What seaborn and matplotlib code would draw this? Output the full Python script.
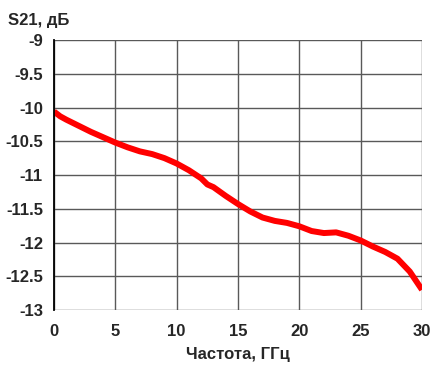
import numpy as np
import matplotlib
matplotlib.use("Agg")
import matplotlib.pyplot as plt
import seaborn as sns
import pandas as pd

# Frequency (GHz) and S21 (dB)
freq = [0, 0.5, 1, 2, 3, 4, 5, 6, 7, 8, 9, 10, 11, 12, 12.5, 13, 14, 15,
        16, 17, 18, 19, 20, 21, 22, 23, 24, 25, 26, 27, 28, 29, 30]
s21 = [-10.06, -10.13, -10.18, -10.27, -10.36, -10.44, -10.52, -10.59, -10.65,
       -10.69, -10.75, -10.83, -10.93, -11.05, -11.14, -11.18, -11.31, -11.43,
       -11.54, -11.63, -11.68, -11.71, -11.76, -11.83, -11.86, -11.85, -11.90,
       -11.97, -12.06, -12.14, -12.24, -12.43, -12.70]
xticks = [0, 5, 10, 15, 20, 25, 30]
yticks = [-13, -12.5, -12, -11.5, -11, -10.5, -10, -9.5, -9]

sns.set_style("white")
plt.rcParams['font.family'] = ['Liberation Sans', 'DejaVu Sans']
plt.rcParams['font.weight'] = 'bold'

df = pd.DataFrame({'f': freq, 's21': s21})

fig = plt.figure(figsize=(4.37, 3.68), dpi=100)
ax = fig.add_axes([0.1236, 0.1576, 0.8421, 0.7337])
sns.lineplot(data=df, x='f', y='s21', ax=ax, color='#ff0000', linewidth=4.3,
             solid_joinstyle='round', solid_capstyle='butt')

ax.set_xlim(0, 30)
ax.set_ylim(-13, -9)
ax.set_xticks(xticks)
ax.set_yticks(yticks)
ax.set_xticklabels([str(t) for t in xticks])
ax.set_yticklabels(['%g' % t for t in yticks])
ax.grid(True, color='#595959', linewidth=1.0)
for s in ['top', 'right', 'bottom']:
    ax.spines[s].set_visible(False)
ax.spines['left'].set_color('black')
ax.spines['left'].set_linewidth(1.3)
ax.tick_params(axis='both', length=0, labelsize=12)
ax.tick_params(axis='x', pad=10)
ax.tick_params(axis='y', pad=8)
for lbl in ax.get_xticklabels() + ax.get_yticklabels():
    lbl.set_fontweight('bold')
ax.set_xlabel('')
ax.set_ylabel('')

fig.text(8 / 437, 1 - 21 / 368, 'S21, дБ', fontsize=12, fontweight='bold',
         ha='left', va='center')
fig.text(238 / 437, 1 - 355 / 368, 'Частота, ГГц', fontsize=12,
         fontweight='bold', ha='center', va='center')

fig.savefig('out.png', dpi=100)
